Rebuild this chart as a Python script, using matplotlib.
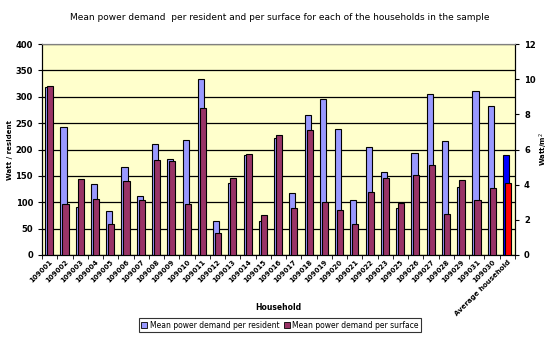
import matplotlib
matplotlib.use("Agg")
import matplotlib.pyplot as plt
import numpy as np

categories = ["109001", "109002", "109003", "109004", "109005", "109006", "109007", "109008",
              "109009", "109010", "109011", "109012", "109013", "109014", "109015", "109016",
              "109017", "109018", "109019", "109020", "109021", "109022", "109023", "109025",
              "109026", "109027", "109028", "109029", "109031", "109030", "Average household"]
per_resident = [318, 242, 91, 134, 83, 166, 111, 210, 182, 218, 333, 65, 136, 189, 64, 222,
                117, 265, 296, 239, 104, 204, 157, 89, 193, 305, 216, 128, 311, 282, 189]
per_surface = [9.6, 2.89, 4.31, 3.17, 1.75, 4.2, 3.15, 5.39, 5.34, 2.89, 8.35, 1.23, 4.37,
               5.73, 2.26, 6.82, 2.66, 7.1, 3.0, 2.54, 1.75, 3.57, 4.37, 2.94, 4.54, 5.11,
               2.32, 4.25, 3.11, 3.8, 4.08]

plt.rcParams['font.family'] = ['DejaVu Sans']

fig = plt.figure(figsize=(5.53, 3.40), dpi=100)
ax = fig.add_axes([42/553, 1-255/340, 473/553, 211/340])
ax2 = ax.twinx()

n = len(categories)
x = np.arange(n)
w = 0.4
blue_c = ['#9999FF'] * (n - 1) + ['#0000FF']
red_c = ['#993366'] * (n - 1) + ['#FF0000']

ax.set_facecolor('#FFFFCC')
ax.bar(x - 0.09, per_resident, w, color=blue_c, edgecolor='black', linewidth=0.8, zorder=2)
ax2.bar(x + 0.04, per_surface, w, color=red_c, edgecolor='black', linewidth=0.8, zorder=3)
ax.set_zorder(1)
ax2.set_zorder(2)
ax2.patch.set_visible(False)

ax.set_xlim(-0.5, n - 0.5)
ax.set_ylim(0, 400)
ax2.set_ylim(0, 12)
ax.set_yticks(np.arange(0, 401, 50))
ax2.set_yticks(np.arange(0, 13, 2))
ax.yaxis.grid(True, color='black', linewidth=0.9, zorder=0)
ax.set_axisbelow(True)

ax.set_xticks(x)
ax.set_xticklabels(categories, rotation=45, ha='right', rotation_mode='anchor',
                   fontsize=5, fontweight='bold')
ax.set_xticks(np.arange(-0.5, n, 1), minor=True)
ax.tick_params(axis='x', which='major', length=0, pad=3)
ax.tick_params(axis='x', which='minor', length=3, direction='out')
ax.tick_params(axis='y', labelsize=6, length=3, direction='out', width=0.8)
ax2.tick_params(axis='y', labelsize=6, length=3, direction='out', width=0.8)
for lab in ax.get_yticklabels() + ax2.get_yticklabels():
    lab.set_fontweight('bold')

for a in (ax, ax2):
    a.spines['top'].set_color('#808080')
    a.spines['right'].set_color('black')
    a.spines['left'].set_color('black')
    a.spines['bottom'].set_color('black')

ax.set_ylabel('Watt / resident', fontsize=5, fontweight='bold')
ax.yaxis.set_label_coords((13 - 42) / 473, 0.5)
ax2.set_ylabel('Watt/m$^2$', fontsize=5, fontweight='bold')
ax2.yaxis.set_label_coords((538 - 42) / 473, 0.5)
fig.text(278/553, 1-307/340, 'Household', fontsize=5.5, fontweight='bold', ha='center', va='center')
fig.text(280/553, 1-17/340, 'Mean power demand  per resident and per surface for each of the households in the sample',
         fontsize=6.5, ha='center', va='center')

from matplotlib.patches import Patch
handles = [Patch(facecolor='#9999FF', edgecolor='black', linewidth=0.6),
           Patch(facecolor='#993366', edgecolor='black', linewidth=0.6)]
leg = fig.legend(handles, ['Mean power demand per resident', 'Mean power demand per surface'],
                 loc='center', bbox_to_anchor=(280/553, 1-325/340), ncol=2, fontsize=5.5,
                 frameon=True, fancybox=False, edgecolor='black', handlelength=0.8,
                 handleheight=0.8, handletextpad=0.3, columnspacing=0.6, borderpad=0.3,
                 borderaxespad=0)
leg.get_frame().set_linewidth(0.8)

fig.savefig('out.png', dpi=100, facecolor='white')
